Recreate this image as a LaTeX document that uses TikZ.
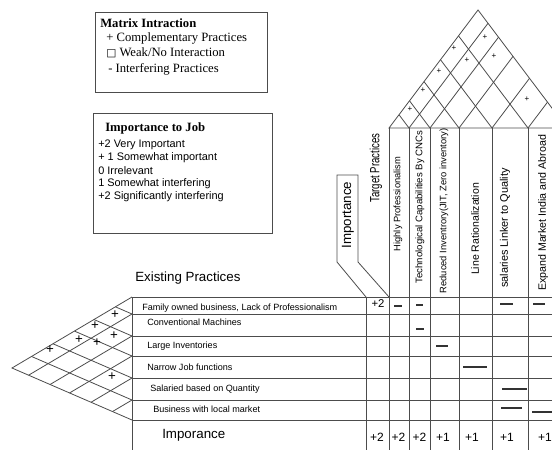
\documentclass[tikz,border=0pt]{standalone}
\usepackage{fontspec}
\setmainfont{Liberation Serif}
\setsansfont{Liberation Sans}
\newfontfamily\dejavu{DejaVu Sans}
\usetikzlibrary{calc}

\begin{document}
\begin{tikzpicture}[x=0.75pt, y=-0.75pt,
		hqline/.style={draw=black!70, line width=0.6pt},
		txt/.style={anchor=west, inner sep=0pt},
		hdr/.style={rotate=90, inner sep=0pt, font=\sffamily\fontsize{7}{8}\selectfont},
		rowlab/.style={anchor=west, inner sep=0pt, font=\sffamily\fontsize{6.8}{8}\selectfont},
		cellval/.style={inner sep=0pt, font=\sffamily\fontsize{9}{10}\selectfont},
		negmark/.style={line width=0.8pt, black!80},
		plusmark/.style={inner sep=0pt, font=\sffamily\fontsize{6}{7}\selectfont}]
		\useasboundingbox (0,0) rectangle (552,450);
		\clip (0,0) rectangle (552,450);
		
		% legends
		\draw[hqline] (95,12) rectangle (267,92);
		\node[txt, font=\bfseries\fontsize{9.5}{11}\selectfont] (mtitle) at (100,23) {Matrix Intraction};
		\node[txt, font=\fontsize{9.5}{11}\selectfont] (mplus) at (106,38) {+ Complementary Practices};
		\node[txt, font=\fontsize{9.5}{11}\selectfont] (mweak) at (106,53) {{\dejavu\fontsize{8}{9}\selectfont □} Weak/No Interaction};
		\node[txt, font=\fontsize{9.5}{11}\selectfont] (mneg) at (108,69) {- Interfering Practices};
		
		\draw[hqline] (93,113) rectangle (272,233);
		\node[txt, font=\bfseries\fontsize{9.5}{11}\selectfont] (jtitle) at (105,128) {Importance to Job};
		\foreach \txt [count=\i] in {+2 Very Important, + 1 Somewhat important, 0 Irrelevant,
			1 Somewhat interfering, +2 Significantly interfering}
		\node[txt, font=\sffamily\fontsize{8.2}{9.5}\selectfont] (j\i) at (98,132+13*\i) {\txt};
		
		% top roof
		\coordinate (ta) at (478,10);
		\coordinate (tl) at (389,128);
		\coordinate (tr) at (567,128);
		\draw[hqline] (tl) -- (ta) -- (tr) -- cycle;
		\foreach \x in {409,430,459,492,528} {
			\pgfmathsetmacro\tf{(\x-389)/178}
			\draw[hqline] ($(tl)!\tf!(ta)$) -- (\x,128) -- ($(tr)!1-\tf!(ta)$);
		}
		\foreach \p/\q in {410/109, 423/90, 439/71, 454/48, 467/60, 485/37, 494/56, 527/99}
		\node[plusmark] at (\p,\q) {+};
		
		% left roof
		\coordinate (la) at (12,368);
		\coordinate (lt) at (132,297);
		\coordinate (lb) at (132,420);
		\draw[hqline] (lt) -- (la) -- (lb);
		\foreach \y in {314,336,356,378,400} {
			\pgfmathsetmacro\tf{(\y-297)/123}
			\draw[hqline] ($(lt)!\tf!(la)$) -- (132,\y) -- ($(lb)!1-\tf!(la)$);
		}
		\foreach \p/\q in {115/315, 95/326, 114/336, 79/340, 97/343, 50/350, 112/377}
		\node[plusmark, font=\sffamily\fontsize{10}{11}\selectfont] at (\p,\q) {+};
		
		% matrix
		\foreach \y in {297,314,336,356,378,400,420}
		\draw[hqline] (132,\y) -- (552,\y);
		\draw[hqline] (132,297) -- (132,450);
		\draw[hqline] (366,297) -- (366,450);
		\foreach \x in {389,409,430,459,492,528}
		\draw[hqline] (\x,128) -- (\x,450);
		\draw[hqline] (366,297) -- (337,262) -- (337,175) -- (358,175) -- (358,262) -- (389,297);
		
		% headers
		\node[hdr, font=\sffamily\fontsize{10}{12}\selectfont] (himp) at (348,215) {Importance};
		\node[hdr, font=\sffamily\fontsize{10}{12}\selectfont] (htarget) at (376,168) {\scalebox{0.72}[1]{Target Practices}};
		\node[hdr] (hprof) at (398,204) {Highly Professionalism};
		\node[hdr, font=\sffamily\fontsize{7.2}{8}\selectfont] (hcnc) at (420,207) {Technological Capabilities By CNCs};
		\node[hdr] (hinv) at (444,211) {Reduced Inventrory(JIT, Zero inventory)};
		\node[hdr, font=\sffamily\fontsize{7.9}{9}\selectfont] (hline) at (475,229) {Line Rationalization};
		\node[hdr, font=\sffamily\fontsize{8.2}{9}\selectfont] (hsal) at (505,228) {salaries Linker to Quality};
		\node[hdr, font=\sffamily\fontsize{8}{9}\selectfont] (hmkt) at (543,213) {Expand Market India and Abroad};
		
		\node[txt, font=\sffamily\fontsize{10}{12}\selectfont] (existing) at (135,278) {Existing Practices};
		\node[rowlab] (rfam) at (142,308) {Family owned business, Lack of Professionalism};
		\node[rowlab] (rconv) at (147,322) {Conventional Machines};
		\node[rowlab] (rinv) at (147,346) {Large Inventories};
		\node[rowlab] (rjob) at (147,367) {Narrow Job functions};
		\node[rowlab] (rsal) at (150,389) {Salaried based on Quantity};
		\node[rowlab] (rbus) at (153,409) {Business with local market};
		\node[txt, font=\sffamily\fontsize{10}{12}\selectfont] (imporance) at (162,435) {Imporance};
		
		% cells
		\node[cellval, font=\sffamily\fontsize{8.5}{10}\selectfont] (v0) at (378,304) {+2};
		\draw[negmark] (394,306) -- (402,306);
		\draw[negmark] (416,305) -- (423,305);
		\draw[negmark] (500,304) -- (513,304);
		\draw[negmark] (533,304) -- (545,304);
		\draw[negmark] (416,329) -- (424,329);
		\draw[negmark, line width=1.2pt] (436,346) -- (448,346);
		\draw[negmark] (463,367) -- (487,367);
		\draw[negmark] (502,389) -- (527,389);
		\draw[negmark] (501,408) -- (522,408);
		\draw[negmark] (532,412) -- (552,412);
		
		\foreach \x/\v [count=\i] in {377/+2, 398.5/+2, 419.5/+2, 443/+1, 472/+1, 507/+1, 545/+1}
		\node[cellval] (w\i) at (\x,437) {\v};
\end{tikzpicture}
\end{document}
